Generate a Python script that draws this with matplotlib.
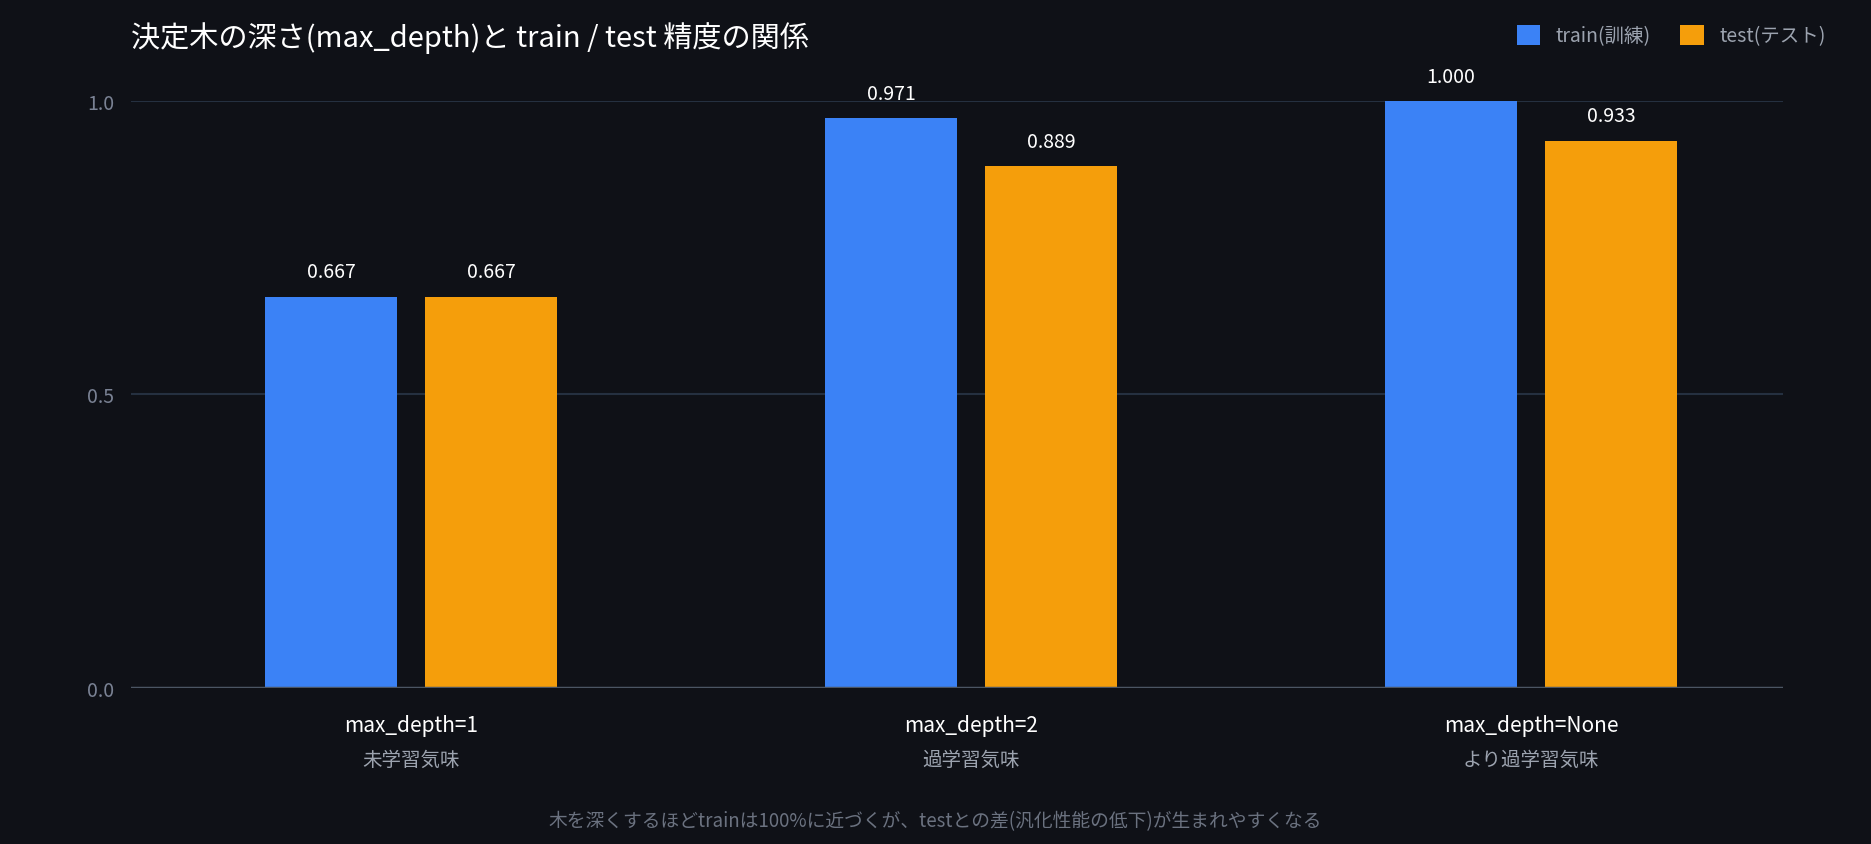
import matplotlib
matplotlib.use("Agg")
import matplotlib.pyplot as plt
import numpy as np

plt.rcParams['font.family'] = ['Noto Sans CJK JP', 'DejaVu Sans']

categories = ["max_depth=1", "max_depth=2", "max_depth=None"]
notes = ["未学習気味", "過学習気味", "より過学習気味"]
train_acc = [0.667, 0.971, 1.000]
test_acc = [0.667, 0.889, 0.933]

bg = "#0f1117"
blue = "#3b82f6"
orange = "#f59e0b"

fig = plt.figure(figsize=(18.71, 8.45), dpi=100, facecolor=bg)
ax = fig.add_axes([0.070, 0.185, 0.883, 0.694])
ax.set_facecolor(bg)

x = np.arange(len(categories))
w = 0.237
off = 0.143
b1 = ax.bar(x - off, train_acc, w, color=blue, label="train(訓練)", zorder=3)
b2 = ax.bar(x + off, test_acc, w, color=orange, label="test(テスト)", zorder=3)
for bars, vals in ((b1, train_acc), (b2, test_acc)):
    for b, v in zip(bars, vals):
        ax.text(b.get_x() + b.get_width() / 2, v + 0.025, f"{v:.3f}",
                ha="center", va="bottom", color="white", fontsize=14, clip_on=False)

ax.set_xlim(-0.5, 2.45)
ax.set_ylim(0, 1.0)
ax.set_yticks([0, 0.5, 1.0])
ax.set_yticklabels(["0.0", "0.5", "1.0"])
ax.grid(axis="y", color="#253040", linewidth=1.5, zorder=0)
for s in ax.spines.values():
    s.set_visible(False)
ax.axhline(0, color="#4b5563", linewidth=2.5, zorder=4)
ax.tick_params(axis="y", colors="#7a8294", labelsize=14, length=0, pad=12)
ax.tick_params(axis="x", length=0)
ax.set_xticks(x)
ax.set_xticklabels([""] * len(x))
for xi, c, n in zip(x, categories, notes):
    ax.text(xi, -0.045, c, transform=ax.get_xaxis_transform(), ha="center", va="top",
            color="white", fontsize=15)
    ax.text(xi, -0.105, n, transform=ax.get_xaxis_transform(), ha="center", va="top",
            color="#9ca3af", fontsize=14)

fig.text(0.070, 0.955, "決定木の深さ(max_depth)と train / test 精度の関係",
         color="white", fontsize=21, ha="left", va="center")
leg = fig.legend(loc="upper right", bbox_to_anchor=(0.985, 0.99), ncol=2, frameon=False,
                 fontsize=14, handlelength=1.2, handleheight=1.2, columnspacing=1.5)
for t in leg.get_texts():
    t.set_color("#9ca3af")
fig.text(0.5, 0.028, "木を深くするほどtrainは100%に近づくが、testとの差(汎化性能の低下)が生まれやすくなる",
         color="#6b7280", fontsize=13.5, ha="center", va="center")

fig.savefig("out.png", dpi=100, facecolor=bg)
